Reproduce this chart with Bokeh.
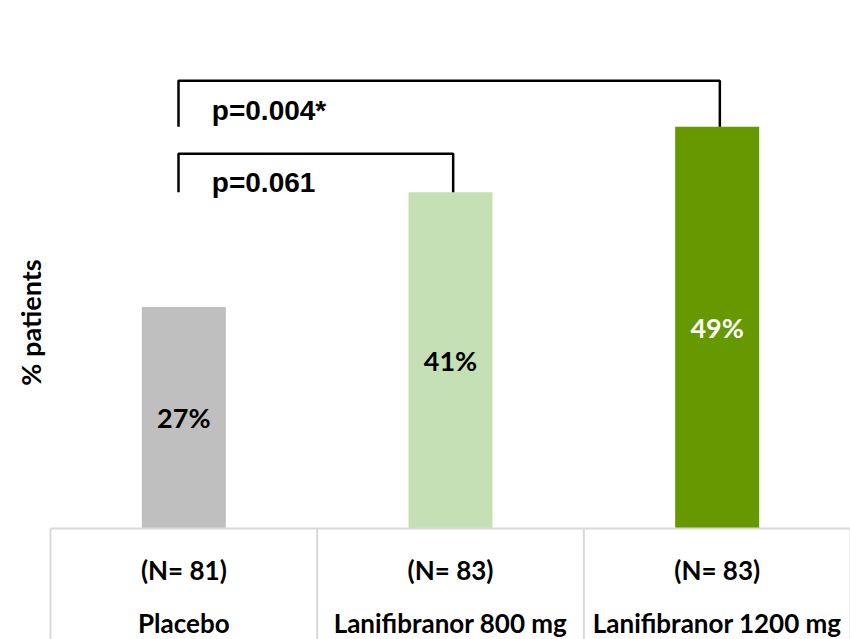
import math
from bokeh.plotting import figure
from bokeh.models import Range1d, ColumnDataSource
from bokeh.core.properties import value
from bokeh.embed import file_html
from bokeh.resources import INLINE

# ---- data ----
categories = ["Placebo", "Lanifibranor 800 mg", "Lanifibranor 1200 mg"]
n_labels = ["(N= 81)", "(N= 83)", "(N= 83)"]
percent = [27, 41, 49]
bar_colors = ["#bfbfbf", "#c5e0b4", "#669900"]
label_colors = ["#000000", "#000000", "#ffffff"]
comparisons = [(0, 1, "p=0.061"), (0, 2, "p=0.004*")]
y_label = "% patients"

# ---- layout constants ----
W, H = 850, 639
px_per_cat = 266.67
px_per_pct = 8.2
left_px = 50
base_px = 528

x0 = -0.5 - left_px / px_per_cat
x1 = x0 + W / px_per_cat
y_top = base_px / px_per_pct
y_bot = -(H - base_px) / px_per_pct

p = figure(width=W, height=H, output_backend="svg", toolbar_location=None,
           x_range=Range1d(x0, x1), y_range=Range1d(y_bot, y_top),
           min_border=0, min_border_left=0, min_border_right=0,
           min_border_top=0, min_border_bottom=0)
p.axis.visible = False
p.grid.visible = False
p.outline_line_color = None
p.background_fill_color = "white"
p.border_fill_color = "white"

xs = list(range(len(categories)))
src = ColumnDataSource(dict(x=xs, top=percent, color=bar_colors,
                            mid=[v / 2 for v in percent],
                            lab=[f"{v}%" for v in percent], lc=label_colors,
                            cat=categories, n=n_labels))

p.vbar(x="x", top="top", bottom=0, width=0.315, fill_color="color",
       line_color=None, source=src)

# value labels
p.text(x="x", y="mid", text="lab", text_color="lc", source=src,
       text_font=value("Lato"), text_font_style="bold", text_font_size="27px",
       text_align="center", text_baseline="middle")

# table lines
grid_col = "#d9d9d9"
p.segment(x0=[-0.5], y0=[0], x1=[len(categories) - 0.5], y1=[0],
          line_color=grid_col, line_width=2)
bounds = [i - 0.5 for i in range(len(categories) + 1)]
p.segment(x0=bounds, y0=[0] * len(bounds), x1=bounds, y1=[y_bot] * len(bounds),
          line_color=grid_col, line_width=2)

# category labels
p.text(x="x", y=-5.1, text="n", source=src, text_font=value("Lato"),
       text_font_style="bold", text_font_size="26px", text_align="center",
       text_baseline="middle")
p.text(x="x", y=-11.5, text="cat", source=src, text_font=value("Lato"),
       text_font_style="bold", text_font_size="26px", text_align="center",
       text_baseline="middle")

# brackets
bracket_tops = {1: 45.7, 2: 54.6}
text_y = {1: 42.2, 2: 51.0}
for a, b, txt in comparisons:
    top = bracket_tops[b]
    xa = a - 0.02
    xb = b + 0.01
    p.line(x=[xa, xa, xb, xb], y=[percent[b], top, top, percent[b]],
           line_color="black", line_width=2.5)
    p.text(x=[a + 0.105], y=[text_y[b]], text=[txt],
           text_font=value("Liberation Sans"), text_font_style="bold",
           text_font_size="28px", text_align="left", text_baseline="middle")

# y label
p.text(x=[x0 + 30 / px_per_cat], y=[(base_px - 322) / px_per_pct], text=[y_label],
       angle=math.pi / 2, text_font=value("Lato"), text_font_style="bold",
       text_font_size="27px", text_align="center", text_baseline="middle")

open("out.html", "w").write(file_html(p, INLINE))
